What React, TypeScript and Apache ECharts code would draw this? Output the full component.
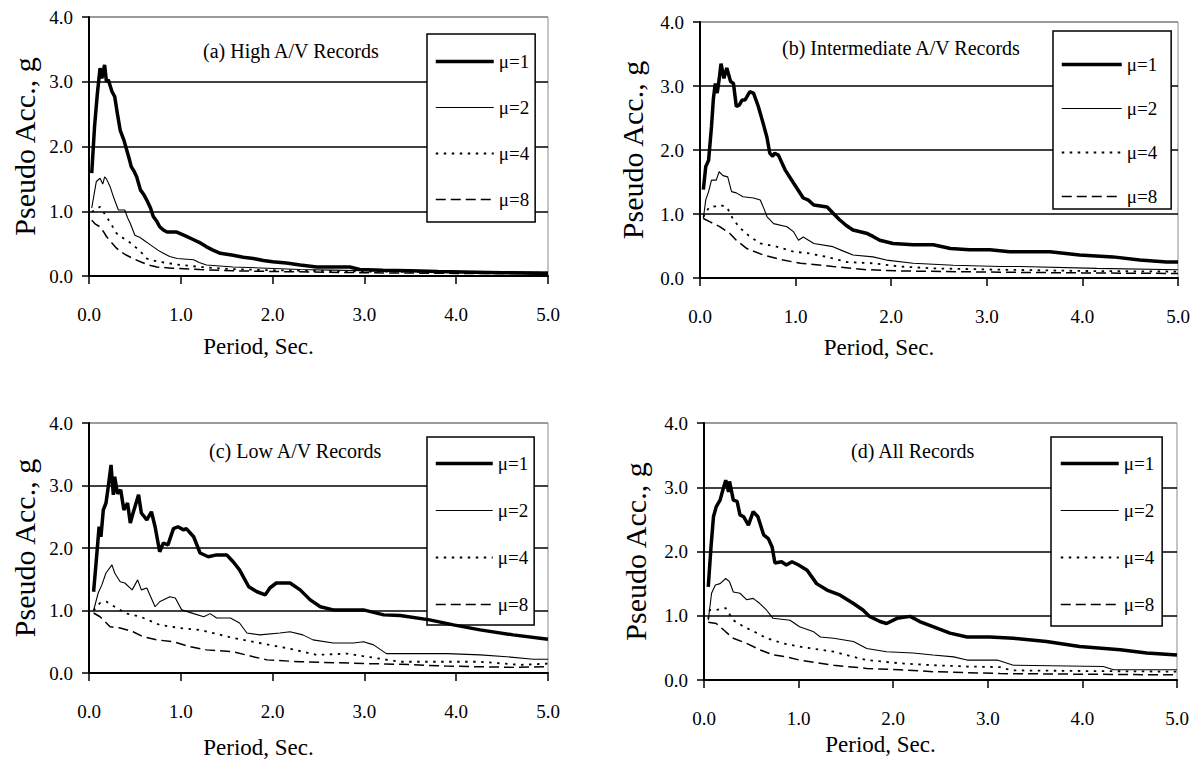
import React, { useEffect, useRef } from "react";
import * as echarts from "echarts";

type Pt = [number, number];

const FONT = "'Liberation Serif', 'Times New Roman', 'DejaVu Serif', serif";
const seriesNames = ["μ=1", "μ=2", "μ=4", "μ=8"];
const panelTitles = [
  "(a) High A/V Records",
  "(b) Intermediate A/V Records",
  "(c) Low A/V Records",
  "(d) All Records",
];
const xTickValues = [0, 1, 2, 3, 4, 5];
const yTickValues = [0, 1, 2, 3, 4];
const xAxisName = "Period, Sec.";
const yAxisName = "Pseudo Acc., g";

// (a) High A/V
const highMu1: Pt[] = [[0.03,1.59],[0.06,2.3],[0.09,2.8],[0.12,3.21],[0.14,3.05],[0.17,3.26],[0.19,3.0],[0.21,3.03],[0.25,2.85],[0.28,2.77],[0.31,2.5],[0.34,2.25],[0.38,2.1],[0.41,1.95],[0.44,1.8],[0.46,1.69],[0.49,1.62],[0.52,1.53],[0.56,1.33],[0.6,1.25],[0.63,1.17],[0.67,1.05],[0.7,0.92],[0.74,0.84],[0.77,0.76],[0.81,0.71],[0.85,0.68],[0.95,0.68],[1.05,0.62],[1.14,0.56],[1.2,0.52],[1.28,0.45],[1.35,0.4],[1.43,0.35],[1.57,0.32],[1.68,0.29],[1.79,0.27],[1.9,0.24],[2.0,0.22],[2.15,0.2],[2.3,0.17],[2.48,0.14],[2.84,0.14],[2.95,0.1],[3.2,0.09],[3.5,0.08],[3.8,0.07],[4.5,0.05],[5.0,0.04]];
const highMu2: Pt[] = [[0.03,1.05],[0.06,1.3],[0.08,1.46],[0.12,1.51],[0.15,1.42],[0.17,1.53],[0.19,1.5],[0.23,1.38],[0.26,1.25],[0.28,1.17],[0.32,1.02],[0.39,1.02],[0.42,0.9],[0.45,0.81],[0.5,0.63],[0.55,0.6],[0.59,0.56],[0.65,0.5],[0.7,0.45],[0.75,0.4],[0.81,0.35],[0.88,0.3],[0.96,0.27],[1.14,0.25],[1.2,0.21],[1.28,0.17],[1.57,0.14],[1.94,0.12],[2.3,0.1],[2.66,0.09],[3.0,0.08],[4.0,0.07],[5.0,0.06]];
const highMu4: Pt[] = [[0.03,0.99],[0.08,1.03],[0.12,1.07],[0.15,1.0],[0.19,0.92],[0.25,0.78],[0.3,0.66],[0.35,0.6],[0.41,0.56],[0.46,0.5],[0.52,0.43],[0.58,0.35],[0.63,0.27],[0.7,0.24],[0.85,0.2],[1.0,0.17],[1.21,0.14],[1.5,0.11],[1.94,0.09],[2.5,0.08],[3.0,0.07],[4.0,0.06],[5.0,0.05]];
const highMu8: Pt[] = [[0.03,0.86],[0.07,0.8],[0.12,0.76],[0.16,0.68],[0.19,0.61],[0.25,0.51],[0.3,0.43],[0.35,0.37],[0.41,0.32],[0.48,0.27],[0.56,0.22],[0.65,0.17],[0.74,0.14],[0.9,0.12],[1.21,0.1],[1.57,0.08],[2.0,0.07],[3.0,0.05],[4.0,0.04],[5.0,0.04]];

// (b) Intermediate A/V
const interMu1: Pt[] = [[0.035,1.38],[0.06,1.74],[0.09,1.84],[0.12,2.36],[0.14,2.8],[0.16,3.04],[0.18,2.89],[0.2,3.1],[0.22,3.35],[0.25,3.12],[0.28,3.28],[0.32,3.07],[0.35,3.04],[0.38,2.68],[0.41,2.7],[0.44,2.78],[0.47,2.78],[0.49,2.83],[0.52,2.91],[0.56,2.89],[0.61,2.68],[0.66,2.42],[0.7,2.2],[0.73,1.95],[0.76,1.9],[0.78,1.95],[0.82,1.92],[0.89,1.69],[0.98,1.48],[1.08,1.25],[1.13,1.22],[1.19,1.14],[1.33,1.11],[1.4,1.0],[1.46,0.91],[1.53,0.82],[1.6,0.75],[1.74,0.7],[1.81,0.65],[1.88,0.59],[2.02,0.54],[2.23,0.52],[2.44,0.52],[2.62,0.46],[2.82,0.44],[3.03,0.44],[3.24,0.41],[3.66,0.41],[3.97,0.36],[4.32,0.33],[4.6,0.28],[4.88,0.25],[5.0,0.25]];
const interMu2: Pt[] = [[0.035,0.93],[0.06,1.22],[0.09,1.35],[0.12,1.53],[0.17,1.53],[0.2,1.66],[0.24,1.6],[0.29,1.58],[0.33,1.35],[0.38,1.33],[0.45,1.27],[0.56,1.25],[0.63,1.22],[0.67,1.08],[0.7,0.96],[0.77,0.85],[0.91,0.8],[0.98,0.72],[1.03,0.59],[1.08,0.64],[1.19,0.54],[1.39,0.49],[1.5,0.42],[1.6,0.36],[1.81,0.33],[1.95,0.28],[2.23,0.23],[2.65,0.2],[3.14,0.18],[3.35,0.18],[4.15,0.15],[5.0,0.13]];
const interMu4: Pt[] = [[0.035,0.95],[0.07,1.05],[0.1,1.11],[0.16,1.12],[0.21,1.14],[0.28,1.11],[0.35,0.91],[0.42,0.78],[0.52,0.65],[0.63,0.54],[0.8,0.49],[0.98,0.41],[1.12,0.39],[1.33,0.33],[1.53,0.25],[1.81,0.23],[2.09,0.18],[2.44,0.15],[3.14,0.13],[4.0,0.11],[5.0,0.1]];
const interMu8: Pt[] = [[0.035,0.93],[0.1,0.88],[0.21,0.8],[0.31,0.7],[0.38,0.59],[0.49,0.46],[0.66,0.36],[0.87,0.28],[1.05,0.23],[1.39,0.18],[1.74,0.13],[2.09,0.11],[3.14,0.09],[4.0,0.08],[5.0,0.07]];

// (c) Low A/V
const lowMu1: Pt[] = [[0.05,1.3],[0.08,1.81],[0.11,2.34],[0.13,2.18],[0.156,2.61],[0.185,2.72],[0.21,2.98],[0.24,3.33],[0.265,2.85],[0.28,3.14],[0.31,2.87],[0.345,2.93],[0.38,2.61],[0.42,2.72],[0.45,2.4],[0.48,2.56],[0.54,2.85],[0.57,2.56],[0.63,2.45],[0.68,2.58],[0.72,2.34],[0.77,1.94],[0.81,2.08],[0.86,2.05],[0.92,2.31],[0.97,2.34],[1.03,2.29],[1.06,2.31],[1.14,2.18],[1.21,1.92],[1.3,1.86],[1.39,1.89],[1.5,1.89],[1.57,1.78],[1.64,1.65],[1.74,1.38],[1.83,1.3],[1.92,1.25],[1.97,1.36],[2.04,1.44],[2.19,1.44],[2.3,1.33],[2.41,1.17],[2.52,1.06],[2.66,1.01],[2.99,1.01],[3.21,0.93],[3.39,0.92],[3.71,0.85],[3.97,0.77],[4.26,0.69],[4.62,0.61],[5.0,0.54]];
const lowMu2: Pt[] = [[0.05,1.0],[0.1,1.28],[0.14,1.41],[0.185,1.6],[0.25,1.73],[0.28,1.6],[0.34,1.46],[0.39,1.44],[0.47,1.33],[0.53,1.49],[0.57,1.33],[0.63,1.36],[0.72,1.06],[0.77,1.14],[0.88,1.22],[0.94,1.2],[1.01,1.01],[1.14,0.95],[1.25,0.9],[1.32,0.95],[1.39,0.88],[1.54,0.88],[1.64,0.8],[1.72,0.64],[1.86,0.61],[2.08,0.64],[2.19,0.66],[2.33,0.61],[2.44,0.53],[2.66,0.48],[2.88,0.48],[2.99,0.5],[3.1,0.45],[3.24,0.31],[3.9,0.31],[4.26,0.29],[4.55,0.26],[4.84,0.22],[5.0,0.22]];
const lowMu4: Pt[] = [[0.05,1.0],[0.12,1.12],[0.19,1.14],[0.28,1.06],[0.41,0.95],[0.56,0.9],[0.77,0.77],[0.99,0.72],[1.21,0.69],[1.57,0.56],[1.86,0.48],[2.15,0.4],[2.48,0.29],[2.81,0.31],[3.03,0.26],[3.39,0.18],[3.53,0.18],[4.26,0.18],[4.7,0.13],[5.0,0.15]];
const lowMu8: Pt[] = [[0.05,0.96],[0.12,0.9],[0.23,0.74],[0.34,0.72],[0.48,0.66],[0.59,0.58],[0.74,0.53],[0.92,0.5],[1.1,0.42],[1.28,0.37],[1.57,0.34],[1.79,0.26],[1.94,0.21],[2.3,0.18],[3.03,0.15],[3.39,0.14],[3.9,0.11],[4.62,0.09],[5.0,0.1]];

// (d) All records
const allMu1: Pt[] = [[0.045,1.45],[0.074,2.07],[0.1,2.54],[0.13,2.7],[0.17,2.8],[0.2,2.96],[0.23,3.11],[0.26,2.93],[0.27,3.09],[0.31,2.8],[0.35,2.78],[0.38,2.57],[0.42,2.54],[0.47,2.41],[0.52,2.62],[0.57,2.54],[0.63,2.26],[0.68,2.2],[0.72,2.07],[0.75,1.82],[0.82,1.84],[0.87,1.79],[0.93,1.84],[1.0,1.79],[1.09,1.71],[1.19,1.5],[1.3,1.4],[1.44,1.32],[1.58,1.19],[1.68,1.09],[1.75,0.99],[1.86,0.91],[1.93,0.88],[2.04,0.96],[2.18,0.99],[2.28,0.91],[2.42,0.83],[2.6,0.73],[2.78,0.67],[3.02,0.67],[3.27,0.65],[3.62,0.6],[3.97,0.52],[4.4,0.47],[4.68,0.42],[5.0,0.39]];
const allMu2: Pt[] = [[0.045,0.93],[0.08,1.35],[0.12,1.48],[0.17,1.5],[0.23,1.58],[0.27,1.53],[0.31,1.37],[0.38,1.35],[0.45,1.25],[0.52,1.27],[0.59,1.19],[0.66,1.09],[0.73,0.96],[0.91,0.93],[1.01,0.83],[1.16,0.75],[1.23,0.67],[1.37,0.65],[1.58,0.6],[1.72,0.49],[1.93,0.44],[2.21,0.42],[2.42,0.39],[2.64,0.36],[2.78,0.31],[3.1,0.31],[3.27,0.23],[4.22,0.21],[4.33,0.16],[5.0,0.16]];
const allMu4: Pt[] = [[0.045,0.95],[0.06,1.09],[0.13,1.09],[0.23,1.12],[0.31,0.93],[0.42,0.83],[0.56,0.73],[0.66,0.65],[0.84,0.57],[1.01,0.52],[1.37,0.44],[1.58,0.36],[1.72,0.31],[2.07,0.26],[2.42,0.23],[2.78,0.21],[3.13,0.2],[3.25,0.15],[4.0,0.14],[5.0,0.13]];
const allMu8: Pt[] = [[0.045,0.9],[0.13,0.88],[0.23,0.75],[0.31,0.65],[0.45,0.57],[0.59,0.47],[0.73,0.39],[0.87,0.36],[1.01,0.31],[1.37,0.23],[1.72,0.18],[2.07,0.16],[2.42,0.13],[3.13,0.1],[4.0,0.09],[5.0,0.08]];

const panelData: Pt[][][] = [
  [highMu1, highMu2, highMu4, highMu8],
  [interMu1, interMu2, interMu4, interMu8],
  [lowMu1, lowMu2, lowMu4, lowMu8],
  [allMu1, allMu2, allMu4, allMu8],
];

// layout
const grids = [
  { left: 89, top: 17, width: 459, height: 259 },
  { left: 700, top: 22, width: 478, height: 256 },
  { left: 89, top: 423, width: 459, height: 250 },
  { left: 704, top: 423, width: 473, height: 257 },
];
const xNameGaps = [59, 58, 63, 53];
const yNameGaps = [50, 53, 50, 54];
const titlePos = [
  { left: 203, top: 41 },
  { left: 782, top: 38 },
  { left: 209, top: 441 },
  { left: 851, top: 441 },
];
const legendPos = [
  { left: 427, top: 34, itemGap: 27, padding: [18, 6, 13, 7], itemWidth: 58 },
  { left: 1053, top: 31, itemGap: 25, padding: [24, 14, 3, 7], itemWidth: 60 },
  { left: 427, top: 437, itemGap: 28, padding: [17, 6, 11, 7], itemWidth: 57 },
  { left: 1051, top: 437, itemGap: 28, padding: [17, 8, 12, 8], itemWidth: 58 },
];

const lineStyles = [
  { width: 3.5, type: "solid" as any },
  { width: 1.1, type: "solid" as any },
  { width: 1.8, type: [2.5, 5.5] as any },
  { width: 1.5, type: [10, 5] as any },
];

export default function App() {
  const ref = useRef<HTMLDivElement>(null);
  useEffect(() => {
    if (!ref.current) return;
    const chart = echarts.init(ref.current, undefined, { renderer: "svg" });
    const fmt = (v: number) => v.toFixed(1);
    const option: any = {
      animation: false,
      backgroundColor: "#fff",
      textStyle: { fontFamily: FONT },
      title: panelTitles.map((t, i) => ({
        text: t,
        left: titlePos[i].left,
        top: titlePos[i].top,
        padding: 0,
        textStyle: { fontFamily: FONT, fontSize: 20, fontWeight: "normal", color: "#000" },
      })),
      legend: legendPos.map((l) => ({
        orient: "vertical",
        left: l.left,
        top: l.top,
        padding: l.padding,
        itemGap: l.itemGap,
        itemWidth: l.itemWidth,
        itemHeight: 14,
        data: seriesNames,
        selectedMode: false,
        borderColor: "#000",
        borderWidth: 1.5,
        borderRadius: 0,
        backgroundColor: "#fff",
        itemStyle: { opacity: 0 },
        lineStyle: { width: "inherit", type: "inherit", color: "inherit" },
        textStyle: { fontFamily: FONT, fontSize: 19, color: "#000" },
      })),
      grid: grids.map((g) => ({
        ...g,
        show: true,
        borderColor: "#8c8c8c",
        borderWidth: 1,
        backgroundColor: "transparent",
        containLabel: false,
      })),
      xAxis: grids.map((_, i) => ({
        type: "value",
        gridIndex: i,
        min: xTickValues[0],
        max: xTickValues[xTickValues.length - 1],
        interval: 1,
        axisLine: { show: true, onZero: false, lineStyle: { color: "#000", width: 2 } },
        axisTick: { show: true, inside: false, length: 8, lineStyle: { color: "#000", width: 1.5 } },
        axisLabel: { formatter: fmt, color: "#000", fontFamily: FONT, fontSize: 19, margin: 29 },
        splitLine: { show: false },
        name: xAxisName,
        nameLocation: "middle",
        nameGap: xNameGaps[i],
        nameTextStyle: { fontFamily: FONT, fontSize: 23, color: "#000", padding: [0, 120, 0, 0] },
      })),
      yAxis: grids.map((_, i) => ({
        type: "value",
        gridIndex: i,
        min: yTickValues[0],
        max: yTickValues[yTickValues.length - 1],
        interval: 1,
        axisLine: { show: true, onZero: false, lineStyle: { color: "#000", width: 2 } },
        axisTick: { show: true, inside: false, length: 7, lineStyle: { color: "#000", width: 1.5 } },
        axisLabel: { formatter: fmt, color: "#000", fontFamily: FONT, fontSize: 19, margin: 16 },
        splitLine: {
          show: true,
          lineStyle: { color: ["#000", "#000", "#000", "#000", "#8c8c8c"], width: 1.5 },
        },
        name: yAxisName,
        nameLocation: "middle",
        nameGap: yNameGaps[i],
        nameTextStyle: { fontFamily: FONT, fontSize: 30, color: "#000" },
      })),
      series: panelData.flatMap((panel, pi) =>
        panel.map((data, si) => ({
          type: "line",
          name: seriesNames[si],
          xAxisIndex: pi,
          yAxisIndex: pi,
          data,
          symbol: "none",
          showSymbol: false,
          smooth: false,
          z: 10 - si,
          lineStyle: { color: "#000", ...lineStyles[si] },
          itemStyle: { color: "#000" },
        }))
      ),
    };
    chart.setOption(option);
    return () => chart.dispose();
  }, []);
  return (
    <div
      ref={ref}
      style={{ position: "fixed", left: 0, top: 0, width: 1197, height: 763, background: "#fff" }}
    />
  );
}
